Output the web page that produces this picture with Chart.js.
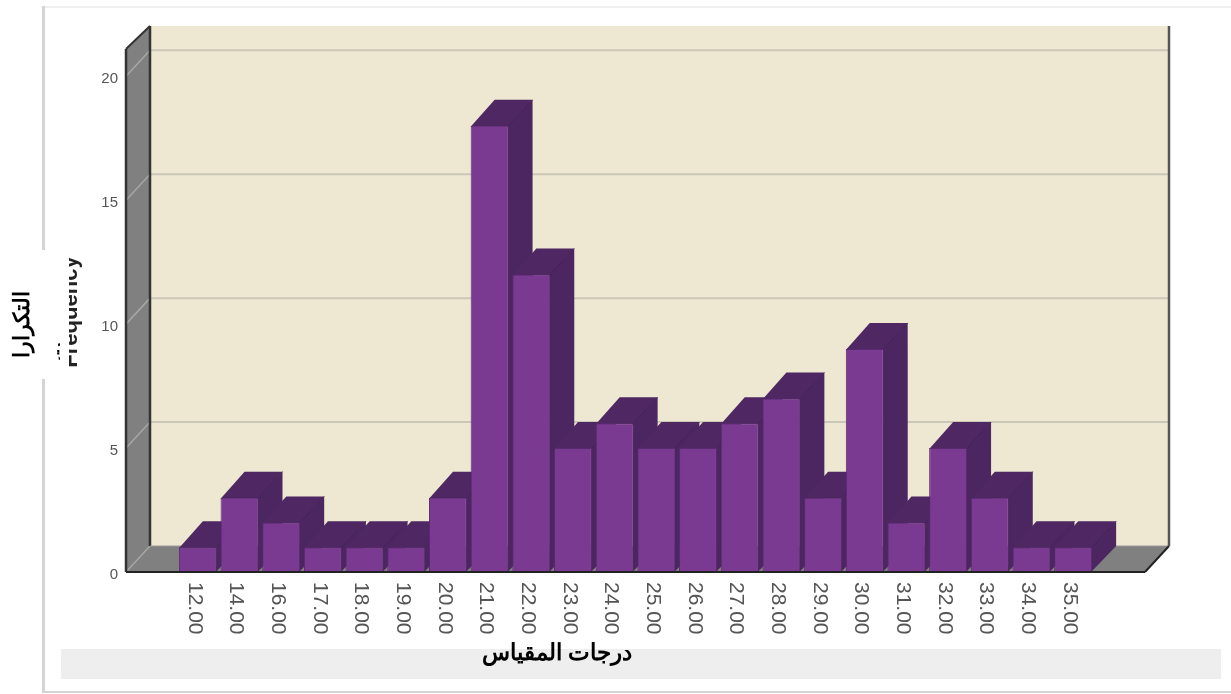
<!DOCTYPE html>
<html lang="ar">
<head>
<meta charset="utf-8">
<title>Frequency</title>
<script src="https://cdn.jsdelivr.net/npm/chart.js@4/dist/chart.umd.min.js"></script>
<style>
  html, body { margin: 0; padding: 0; background: #fff; }
  canvas { display: block; }
</style>
</head>
<body>
<canvas id="freq-chart" width="1231" height="694"></canvas>
<script>
// Values
const scoreLabels = ['12.00', '14.00', '16.00', '17.00', '18.00', '19.00', '20.00', '21.00', '22.00', '23.00', '24.00',
                     '25.00', '26.00', '27.00', '28.00', '29.00', '30.00', '31.00', '32.00', '33.00', '34.00', '35.00'];
const frequencies = [1, 3, 2, 1, 1, 1, 3, 18, 12, 5, 6, 5, 5, 6, 7, 3, 9, 2, 5, 3, 1, 1];
const xAxisTitle = 'درجات المقياس';
const yAxisTitle = 'التكرارا';
const yAxisTitleWrap = 'ت';
const hiddenTitle = 'Frequency';

const DEPTH_X = 24;
const DEPTH_Y = 26;
const FLOOR_LEFT = 51;   // floor sticks out this far on both sides of the bars
const SANS = '"Liberation Sans", Arial, sans-serif';

function poly(ctx, pts, fill) {
  ctx.beginPath();
  pts.forEach((p, i) => i ? ctx.lineTo(p[0], p[1]) : ctx.moveTo(p[0], p[1]));
  ctx.closePath();
  ctx.fillStyle = fill;
  ctx.fill();
}

function line(ctx, x1, y1, x2, y2, color, width) {
  ctx.beginPath();
  ctx.moveTo(x1, y1);
  ctx.lineTo(x2, y2);
  ctx.strokeStyle = color;
  ctx.lineWidth = width;
  ctx.stroke();
}

const pagePlugin = {
  id: 'page',
  beforeDraw(chart) {
    const ctx = chart.ctx;
    ctx.save();
    ctx.fillStyle = '#fff';
    ctx.fillRect(0, 0, chart.width, chart.height);
    // slide frame
    ctx.fillStyle = '#efefef';
    ctx.fillRect(43, 6, 1188, 2);
    ctx.fillStyle = '#d4d4d4';
    ctx.fillRect(42, 6, 3, 687);
    ctx.fillRect(43, 691, 1188, 2);
    // band under the axis
    ctx.fillStyle = '#eeeeee';
    ctx.fillRect(61, 649, 1160, 30);
    ctx.restore();
  }
};

const box3dPlugin = {
  id: 'box3d',
  beforeDatasetsDraw(chart) {
    const ctx = chart.ctx;
    const area = chart.chartArea;
    const yScale = chart.scales.y;
    const frontL = area.left - FLOOR_LEFT;
    const frontR = area.right + FLOOR_LEFT;
    const backL = frontL + DEPTH_X;
    const backR = frontR + DEPTH_X;
    const bottom = area.bottom;
    const backTop = area.top - 23;
    const backBottom = bottom - DEPTH_Y;

    ctx.save();
    // back wall
    ctx.fillStyle = '#eee7d2';
    ctx.fillRect(backL, backTop, backR - backL, backBottom - backTop);
    // left wall and floor
    poly(ctx, [[frontL, area.top], [backL, backTop], [backL, backBottom], [frontL, bottom]], '#808080');
    poly(ctx, [[backL, backBottom], [backR, backBottom], [frontR, bottom], [frontL, bottom]], '#808080');

    // gridlines, back wall then the bit running over the left wall
    yScale.ticks.forEach(t => {
      const y = yScale.getPixelForValue(t.value);
      if (t.value > 0) line(ctx, backL, y - DEPTH_Y, backR, y - DEPTH_Y, '#cbc7b8', 2);
      line(ctx, frontL, y, backL, y - DEPTH_Y, '#a6a6a6', 1.5);
    });

    // wall edges
    line(ctx, frontL, area.top, frontL, bottom, '#333', 2.5);
    line(ctx, frontL, area.top, backL, backTop, '#333', 2);
    line(ctx, backL, backTop, backL, backBottom, '#333', 2.5);
    line(ctx, backR, backTop, backR, backBottom, '#555', 2.5);
    line(ctx, backL, backBottom, backR, backBottom, '#9a9a9a', 1);
    line(ctx, backR, backBottom, frontR, bottom, '#222', 2);

    // bar tops and right sides, the fronts come from the library after this
    chart.getDatasetMeta(0).data.forEach(bar => {
      const l = bar.x - bar.width / 2;
      const r = bar.x + bar.width / 2;
      // 1px tucked under the front so no pale seam shows along its edges
      poly(ctx, [[r - 1, bar.y + 1], [r + DEPTH_X, bar.y - DEPTH_Y], [r + DEPTH_X, bar.base - DEPTH_Y], [r - 1, bar.base]], '#4b2660');
      poly(ctx, [[l, bar.y + 1], [l + DEPTH_X, bar.y - DEPTH_Y], [r + DEPTH_X, bar.y - DEPTH_Y], [r, bar.y + 1]], '#4e2763');
      line(ctx, r, bar.y, r + DEPTH_X, bar.y - DEPTH_Y, '#452159', 1);
    });
    ctx.restore();
  },
  afterDatasetsDraw(chart) {
    const ctx = chart.ctx;
    const area = chart.chartArea;
    line(ctx, area.left - FLOOR_LEFT, area.bottom, area.right + FLOOR_LEFT, area.bottom, '#222', 2);
  }
};

const labelsPlugin = {
  id: 'labels',
  afterDraw(chart) {
    const ctx = chart.ctx;
    const xScale = chart.scales.x;
    const yScale = chart.scales.y;
    ctx.save();

    // value axis
    ctx.fillStyle = '#555';
    ctx.font = '15px ' + SANS;
    ctx.textAlign = 'right';
    ctx.textBaseline = 'middle';
    yScale.ticks.forEach(t => {
      ctx.fillText(t.value, 118, yScale.getPixelForValue(t.value) + 2.5);
    });

    // category axis, reads top to bottom
    ctx.font = '21px ' + SANS;
    ctx.textAlign = 'left';
    ctx.fillStyle = '#555';
    scoreLabels.forEach((label, i) => {
      ctx.save();
      ctx.translate(xScale.getPixelForValue(i) - 3.5, 582);
      ctx.rotate(Math.PI / 2);
      ctx.fillText(label, 0, 0);
      ctx.restore();
    });

    // old axis title, mostly hidden by the white box laid over it
    ctx.save();
    ctx.translate(77, 312);
    ctx.rotate(-Math.PI / 2);
    ctx.font = 'bold 22px ' + SANS;
    ctx.fillStyle = '#222';
    ctx.textAlign = 'center';
    ctx.textBaseline = 'alphabetic';
    ctx.fillText(hiddenTitle, 0, 0);
    ctx.restore();
    ctx.fillStyle = '#fff';
    ctx.fillRect(12, 250, 57, 129);

    // arabic titles
    ctx.fillStyle = '#000';
    ctx.textBaseline = 'alphabetic';
    ctx.textAlign = 'center';
    ctx.save();
    ctx.translate(29, 324);
    ctx.rotate(-Math.PI / 2);
    ctx.font = 'bold 22px ' + SANS;
    ctx.fillText(yAxisTitle, 0, 0);
    ctx.restore();

    ctx.save();
    ctx.beginPath();
    ctx.rect(45, 330, 15, 40);
    ctx.clip();
    ctx.translate(65, 351);
    ctx.rotate(-Math.PI / 2);
    ctx.font = 'bold 20px ' + SANS;
    ctx.fillText(yAxisTitleWrap, 0, 0);
    ctx.restore();

    ctx.font = 'bold 23px ' + SANS;
    ctx.fillText(xAxisTitle, 557, 660);
    ctx.restore();
  }
};

new Chart(document.getElementById('freq-chart').getContext('2d'), {
  type: 'bar',
  data: {
    labels: scoreLabels,
    datasets: [{
      label: 'Frequency',
      data: frequencies,
      backgroundColor: '#7b3a92',
      borderColor: '#5a2a6e',
      borderWidth: 1,
      barPercentage: 0.91,
      categoryPercentage: 1
    }]
  },
  plugins: [pagePlugin, box3dPlugin, labelsPlugin],
  options: {
    responsive: false,
    animation: false,
    layout: { padding: { left: 177, right: 137, top: 49, bottom: 122 } },
    plugins: { legend: { display: false }, tooltip: { enabled: false } },
    scales: {
      x: { display: false },
      y: { display: false, min: 0, max: 21.1, ticks: { stepSize: 5, includeBounds: false } }
    }
  }
});
</script>
</body>
</html>
